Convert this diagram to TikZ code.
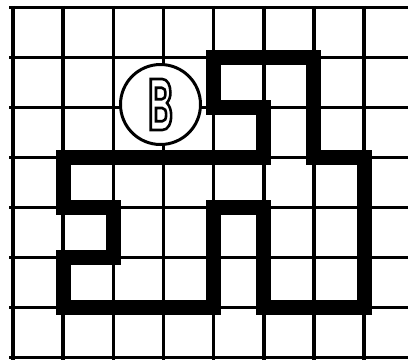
\documentclass[tikz,border=0pt]{standalone}
\usepackage{fontspec}
\newfontfamily\badgefont[FakeStretch=0.5]{TeX Gyre Heros}
\begin{document}
\begin{tikzpicture}[x=1pt,y=-1pt,
  gridline/.style={line width=3.5pt},
  wall/.style={line width=15pt, line join=miter},
  badge/.style={circle, draw, fill=white, line width=3pt, minimum size=80pt, inner sep=0pt}]
\useasboundingbox (0,0) rectangle (408,360);
\fill[white] (0,0) rectangle (408,360);
\foreach \j in {0,...,7} \draw[gridline] (9, 7.5+50*\j) -- (408, 7.5+50*\j);
\foreach \i in {0,...,7} \draw[gridline] (13+50.15*\i, 5.75) -- (13+50.15*\i, 360);
\foreach \i in {0,...,7} \foreach \j in {0,...,7} \coordinate (g\i\j) at (13+50.15*\i, 7.5+50*\j);
\draw[wall] (g41) -- (g61) -- (g63) -- (g73) -- (g76) -- (g56) -- (g54) -- (g44) -- (g46) -- (g16) -- (g15) -- (g25) -- (g24) -- (g14) -- (g13) -- (g53) -- (g52) -- (g42) -- cycle;
\node[badge] (b) at (160.5,104.5) {};
\node[inner sep=0pt] (bl) at (b) {\special{pdf:literal direct 1 Tr 2.6 w}\fontsize{70}{70}\selectfont\badgefont\bfseries B\special{pdf:literal direct 0 Tr}};
\end{tikzpicture}
\end{document}
